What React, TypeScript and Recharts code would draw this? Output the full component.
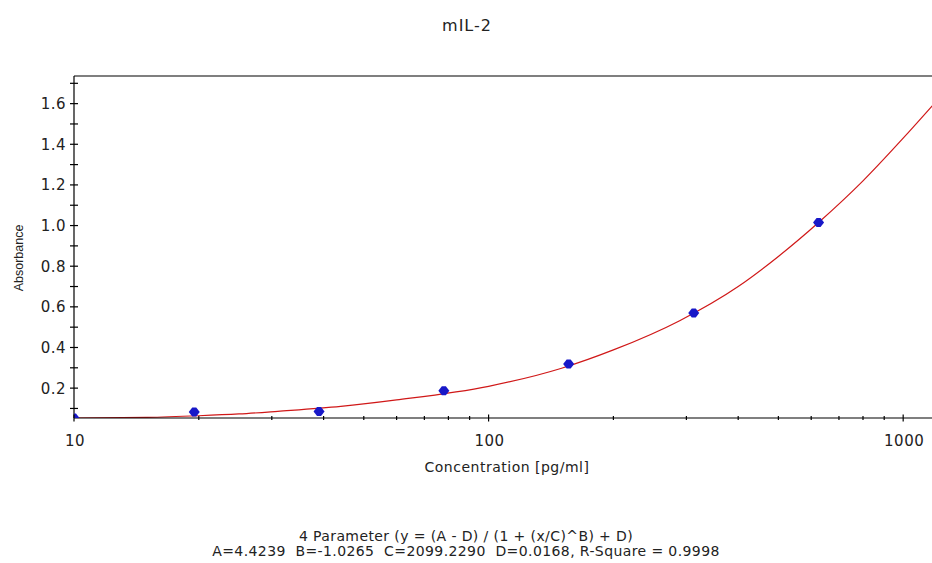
import React from "react";
import {
  ComposedChart,
  Line,
  Scatter,
  XAxis,
  YAxis,
  ReferenceLine,
} from "recharts";

// standards (pg/ml) and measured absorbance
const stdConc = [10, 19.5, 39, 78, 156, 312.5, 625];
const stdAbs = [0.053, 0.082, 0.085, 0.187, 0.319, 0.57, 1.015];

// fitted 4PL curve
const curveConc = [10, 15, 20, 25, 31, 44, 60, 100, 150, 200, 289, 400, 500, 625, 800, 1000, 1200];
const curveAbs = [0.053, 0.056, 0.064, 0.073, 0.086, 0.11, 0.142, 0.209, 0.298, 0.388, 0.532, 0.7, 0.848, 1.015, 1.22, 1.43, 1.61];

const xTicks = [10, 20, 30, 40, 50, 60, 70, 80, 90, 100, 200, 300, 400, 500, 600, 700, 800, 900, 1000];
const xLabelled = [10, 100, 1000];
const yTicks = [0.1, 0.2, 0.3, 0.4, 0.5, 0.6, 0.7, 0.8, 0.9, 1.0, 1.1, 1.2, 1.3, 1.4, 1.5, 1.6, 1.7];

const title = "mIL-2";
const xTitle = "Concentration [pg/ml]";
const yTitle = "Absorbance";
const fitLine1 = "4 Parameter (y = (A - D) / (1 + (x/C)^B) + D)";
const fitLine2 = "A=4.4239  B=-1.0265  C=2099.2290  D=0.0168, R-Square = 0.9998";

const X_DOMAIN = [10, 1200];
const Y_DOMAIN = [0.053, 1.736];

const points = stdConc.map((x, i) => ({ x, y: stdAbs[i] }));
const curve = curveConc.map((x, i) => ({ x, y: curveAbs[i] }));

const tickFont = { fontFamily: "'DejaVu Sans', sans-serif", fontSize: 15, letterSpacing: 0.5, fill: "#222" };

const YTick = (props: any) => {
  const { x, y, payload } = props;
  const v = payload.value as number;
  const labelled = Math.round(v * 10) % 2 === 0;
  return (
    <g>
      <line x1={x - 4} x2={x + 4} y1={y} y2={y} stroke="#000" strokeWidth={1.2} />
      {labelled && (
        <text x={x - 8} y={y} dy="0.36em" textAnchor="end" {...tickFont}>
          {v.toFixed(1)}
        </text>
      )}
    </g>
  );
};

const XTick = (props: any) => {
  const { x, y, payload } = props;
  const v = payload.value as number;
  const major = xLabelled.includes(v);
  const h = major ? 3.5 : 2;
  return (
    <g>
      <line x1={x} x2={x} y1={y - h} y2={y + h} stroke="#000" strokeWidth={1.2} />
      {major && (
        <text x={x + 1} y={y + 28} textAnchor="middle" {...tickFont}>
          {v}
        </text>
      )}
    </g>
  );
};

const Diamond = (props: any) => {
  const { cx, cy } = props;
  const pts = [
    [cx - 5.5, cy],
    [cx - 2, cy - 4.5],
    [cx + 2, cy - 4.5],
    [cx + 5.5, cy],
    [cx + 2, cy + 4.5],
    [cx - 2, cy + 4.5],
  ]
    .map((p) => p.join(","))
    .join(" ");
  return <polygon points={pts} fill="#1818c8" />;
};

export default function App() {
  return (
    <div
      style={{
        position: "absolute",
        left: 0,
        top: 0,
        width: 932,
        height: 563,
        overflow: "hidden",
        background: "#fff",
      }}
    >
      <ComposedChart
        width={936}
        height={563}
        margin={{ top: 76, right: 0, bottom: 0, left: 0 }}
      >
        <XAxis
          dataKey="x"
          type="number"
          scale="log"
          domain={X_DOMAIN}
          allowDataOverflow
          ticks={xTicks}
          interval={0}
          height={145}
          tickSize={0}
          tickMargin={0}
          tickLine={false}
          axisLine={{ stroke: "#000", strokeWidth: 1.2 }}
          tick={<XTick />}
        />
        <YAxis
          dataKey="y"
          type="number"
          domain={Y_DOMAIN}
          allowDataOverflow
          ticks={yTicks}
          interval={0}
          width={74}
          tickSize={0}
          tickMargin={0}
          tickLine={false}
          axisLine={{ stroke: "#000", strokeWidth: 1.2 }}
          tick={<YTick />}
        />
        <ReferenceLine y={Y_DOMAIN[1]} stroke="#000" strokeWidth={1.2} />
        <Line
          data={curve}
          dataKey="y"
          type="monotone"
          stroke="#d01818"
          strokeWidth={1.2}
          dot={false}
          activeDot={false}
          isAnimationActive={false}
        />
        <Scatter data={points} dataKey="y" shape={<Diamond />} isAnimationActive={false} />
      </ComposedChart>

      <svg
        width={932}
        height={563}
        style={{ position: "absolute", left: 0, top: 0, pointerEvents: "none" }}
      >
        <g style={{ fontFamily: "'DejaVu Sans', sans-serif" }} fill="#222">
          <text x={467} y={31} textAnchor="middle" fontSize={16} letterSpacing={1}>
            {title}
          </text>
          <text x={507} y={472} textAnchor="middle" fontSize={14} letterSpacing={0.5}>
            {xTitle}
          </text>
          <text x={466} y={541} textAnchor="middle" fontSize={14} letterSpacing={0.4} xmlSpace="preserve">
            {fitLine1}
          </text>
          <text x={466} y={556} textAnchor="middle" fontSize={14} letterSpacing={0.4} xmlSpace="preserve">
            {fitLine2}
          </text>
        </g>
        <text
          transform="translate(23,258) rotate(-90)"
          textAnchor="middle"
          fontSize={12.5}
          fill="#222"
          style={{ fontFamily: "'Liberation Sans', Arial, sans-serif" }}
        >
          {yTitle}
        </text>
      </svg>
    </div>
  );
}
